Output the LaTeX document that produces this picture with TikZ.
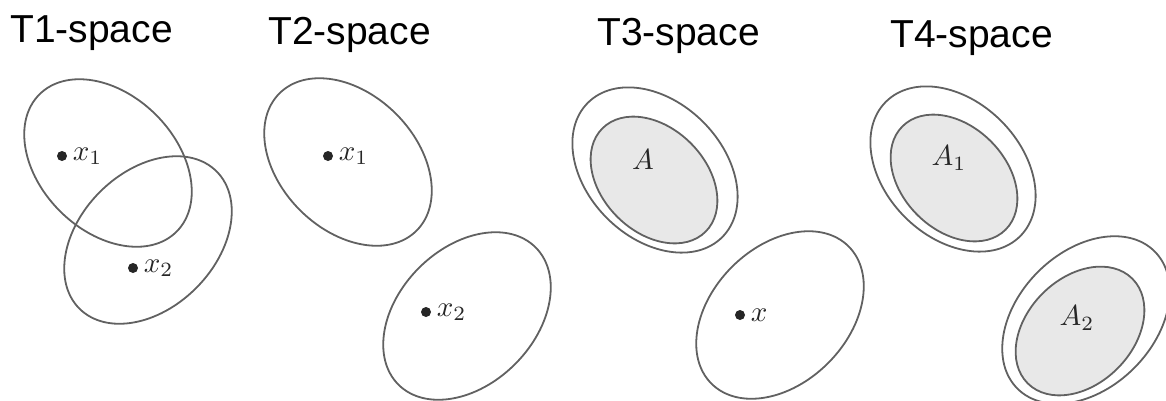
\documentclass[tikz,border=0pt]{standalone}
\usepackage{fontspec}
\setmainfont{Liberation Sans}
\begin{document}
\begin{tikzpicture}[x=1pt,y=1pt,
  ring/.style={draw=black!62,line width=1.8pt},
  core/.style={draw=black!62,line width=1.8pt,fill=black!9},
  pt/.style={circle,fill=black!85,inner sep=0pt,minimum size=10pt},
  title/.style={anchor=base west,inner sep=0pt,font=\fontsize{39}{40}\selectfont},
  mlab/.style={anchor=west,inner sep=0pt,scale=2.9,text=black!85}]
\useasboundingbox (0,0) rectangle (1166,-400);
% titles
\node[title] (t1) at (10,-42) {T1-space};
\node[title] (t2) at (268,-44) {T2-space};
\node[title] (t3) at (597,-45) {T3-space};
\node[title] (t4) at (890,-47) {T4-space};
% T1
\draw[ring,shift={(108,-163)},rotate=-45] (0,0) ellipse [x radius=97,y radius=68];
\draw[ring,shift={(148,-240)},rotate=45] (0,0) ellipse [x radius=97,y radius=68];
\node[pt] (a1) at (62,-156) {};
\node[mlab] (la1) at ([xshift=5pt]a1.east) {$x_1$};
\node[pt] (a2) at (133,-268) {};
\node[mlab] (la2) at ([xshift=5pt]a2.east) {$x_2$};
% T2
\draw[ring,shift={(348,-162)},rotate=-45] (0,0) ellipse [x radius=97,y radius=68];
\draw[ring,shift={(467,-316)},rotate=45] (0,0) ellipse [x radius=97,y radius=68];
\node[pt] (b1) at (328,-156) {};
\node[mlab] (lb1) at ([xshift=5pt]b1.east) {$x_1$};
\node[pt] (b2) at (426,-312) {};
\node[mlab] (lb2) at ([xshift=5pt]b2.east) {$x_2$};
% T3
\draw[ring,shift={(655,-170)},rotate=-45] (0,0) ellipse [x radius=95,y radius=68];
\draw[core,shift={(654,-180)},rotate=-45] (0,0) ellipse [x radius=73,y radius=52];
\node[mlab,anchor=center] (lA) at (643,-160) {$A$};
\draw[ring,shift={(780,-315)},rotate=45] (0,0) ellipse [x radius=97,y radius=68];
\node[pt] (c1) at (740,-315) {};
\node[mlab] (lc1) at ([xshift=5pt]c1.east) {$x$};
% T4
\draw[ring,shift={(953,-169)},rotate=-45] (0,0) ellipse [x radius=95,y radius=68];
\draw[core,shift={(954,-178)},rotate=-45] (0,0) ellipse [x radius=73,y radius=52];
\node[mlab,anchor=center] (lA1) at (949,-158) {$A_1$};
\draw[ring,shift={(1086,-320)},rotate=45] (0,0) ellipse [x radius=97,y radius=68];
\draw[core,shift={(1080,-331)},rotate=45] (0,0) ellipse [x radius=74,y radius=53];
\node[mlab,anchor=center] (lA2) at (1077,-318) {$A_2$};
\end{tikzpicture}
\end{document}
